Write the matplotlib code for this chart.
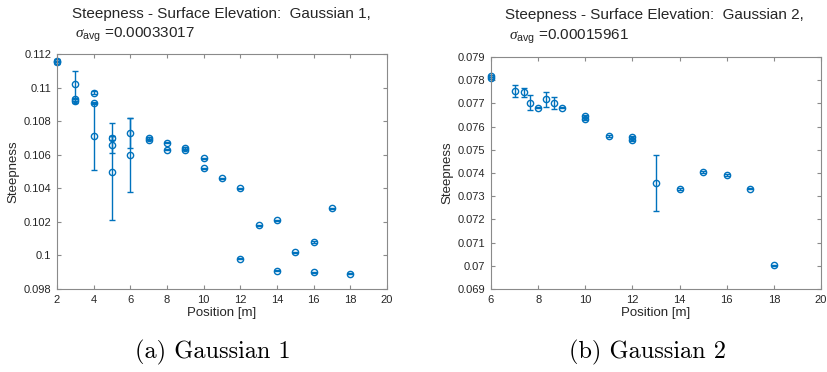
import matplotlib
matplotlib.use("Agg")
import matplotlib.pyplot as plt

plt.rcParams['font.family'] = ['Liberation Sans', 'DejaVu Sans']
plt.rcParams['mathtext.fontset'] = 'custom'
plt.rcParams['mathtext.rm'] = 'Liberation Sans'
plt.rcParams['mathtext.it'] = 'Liberation Serif:italic'

# Gaussian 1
pos1 = [2, 2, 3, 3, 3, 4, 4, 4, 5, 5, 5, 6, 6, 7, 7, 8, 8, 9, 9, 10, 10,
        11, 12, 12, 13, 14, 14, 15, 16, 16, 17, 18]
steep1 = [0.1116, 0.1115, 0.1102, 0.1093, 0.1092, 0.1097, 0.1091, 0.1071,
          0.1070, 0.1066, 0.1050, 0.1073, 0.1060, 0.1070, 0.1069, 0.1067,
          0.1063, 0.1064, 0.1063, 0.1058, 0.1052, 0.1046, 0.1040, 0.0998,
          0.1018, 0.1021, 0.0991, 0.1002, 0.1008, 0.0990, 0.1028, 0.0989]
err1 = [0.00008, 0.00008, 0.0008, 0.0001, 0.0001, 0.0001, 0.00005, 0.0020,
        0.0001, 0.0005, 0.0029, 0.0009, 0.0022, 0.00004, 0.00004, 0.00003,
        0.00003, 0.00003, 0.00003, 0.00003, 0.00003, 0.00003, 0.00003,
        0.00003, 0.00003, 0.00003, 0.00003, 0.00003, 0.00003, 0.00003,
        0.00003, 0.00003]
xt1 = [2, 4, 6, 8, 10, 12, 14, 16, 18, 20]
yt1 = [0.098, 0.100, 0.102, 0.104, 0.106, 0.108, 0.110, 0.112]
ytl1 = ['0.098', '0.1', '0.102', '0.104', '0.106', '0.108', '0.11', '0.112']

# Gaussian 2
pos2 = [6, 6, 7, 7.4, 7.67, 8, 8.35, 8.67, 9, 10, 10, 11, 12, 12, 13, 14,
        15, 16, 17, 18]
steep2 = [0.07817, 0.07810, 0.07753, 0.07747, 0.07703, 0.07682, 0.07717,
          0.07700, 0.07682, 0.07645, 0.07633, 0.07560, 0.07557, 0.07542,
          0.07357, 0.07330, 0.07405, 0.07392, 0.07333, 0.07002]
err2 = [0.00005, 0.00005, 0.00026, 0.00020, 0.00032, 0.00003, 0.00034,
        0.00026, 0.00003, 0.00004, 0.00004, 0.00003, 0.00004, 0.00004,
        0.00122, 0.00005, 0.00003, 0.00004, 0.00003, 0.00003]
xt2 = [6, 8, 10, 12, 14, 16, 18, 20]
yt2 = [0.069, 0.070, 0.071, 0.072, 0.073, 0.074, 0.075, 0.076, 0.077,
       0.078, 0.079]
ytl2 = ['0.069', '0.07', '0.071', '0.072', '0.073', '0.074', '0.075',
        '0.076', '0.077', '0.078', '0.079']

blue = '#0072BD'
edge = '#8a8a8a'
txt = '#262626'

fig = plt.figure(figsize=(8.28, 3.72), dpi=100)
W, H = 828.0, 372.0


def panel(rect, x, y, e, xt, yt, ytl, xlim, ylim):
    ax = fig.add_axes(rect)
    ax.errorbar(x, y, yerr=e, fmt='o', color=blue, mfc='none', ms=4.5,
                mew=1, elinewidth=1, capsize=2, capthick=1, clip_on=False)
    ax.set_xlim(xlim)
    ax.set_ylim(ylim)
    ax.set_xticks(xt)
    ax.set_yticks(yt)
    ax.set_yticklabels(ytl)
    ax.tick_params(direction='in', length=3, width=0.8, top=True,
                   right=True, labelsize=8, colors=edge, labelcolor=txt,
                   pad=4)
    for s in ax.spines.values():
        s.set_color(edge)
        s.set_linewidth(0.8)
    ax.set_xlabel('Position [m]', fontsize=9.5, color=txt, labelpad=2)
    ax.set_ylabel('Steepness', fontsize=9.5, color=txt, labelpad=3)
    return ax


panel([57 / W, 1 - 289 / H, 330 / W, 235 / H], pos1, steep1, err1,
      xt1, yt1, ytl1, (2, 20), (0.098, 0.112))
panel([491 / W, 1 - 289 / H, 330 / W, 232 / H], pos2, steep2, err2,
      xt2, yt2, ytl2, (6, 20), (0.069, 0.079))

# titles
fig.text(221 / W, 1 - 14 / H, 'Steepness - Surface Elevation:  Gaussian 1,',
         ha='center', va='center', fontsize=11, color=txt)
fig.text(75 / W, 1 - 35 / H, r'$\it{\sigma}_{\rm avg}$ =0.00033017',
         ha='left', va='center', fontsize=11, color=txt)
fig.text(654 / W, 1 - 15 / H, 'Steepness - Surface Elevation:  Gaussian 2,',
         ha='center', va='center', fontsize=11, color=txt)
fig.text(509 / W, 1 - 37 / H, r'$\it{\sigma}_{\rm avg}$ =0.00015961',
         ha='left', va='center', fontsize=11, color=txt)

# captions
fig.text(213 / W, 1 - 352 / H, '(a) Gaussian 1', family='cmr10',
         ha='center', va='center', fontsize=17.5, color='black')
fig.text(648 / W, 1 - 352 / H, '(b) Gaussian 2', family='cmr10',
         ha='center', va='center', fontsize=17.5, color='black')

fig.savefig('out.png', dpi=100)
